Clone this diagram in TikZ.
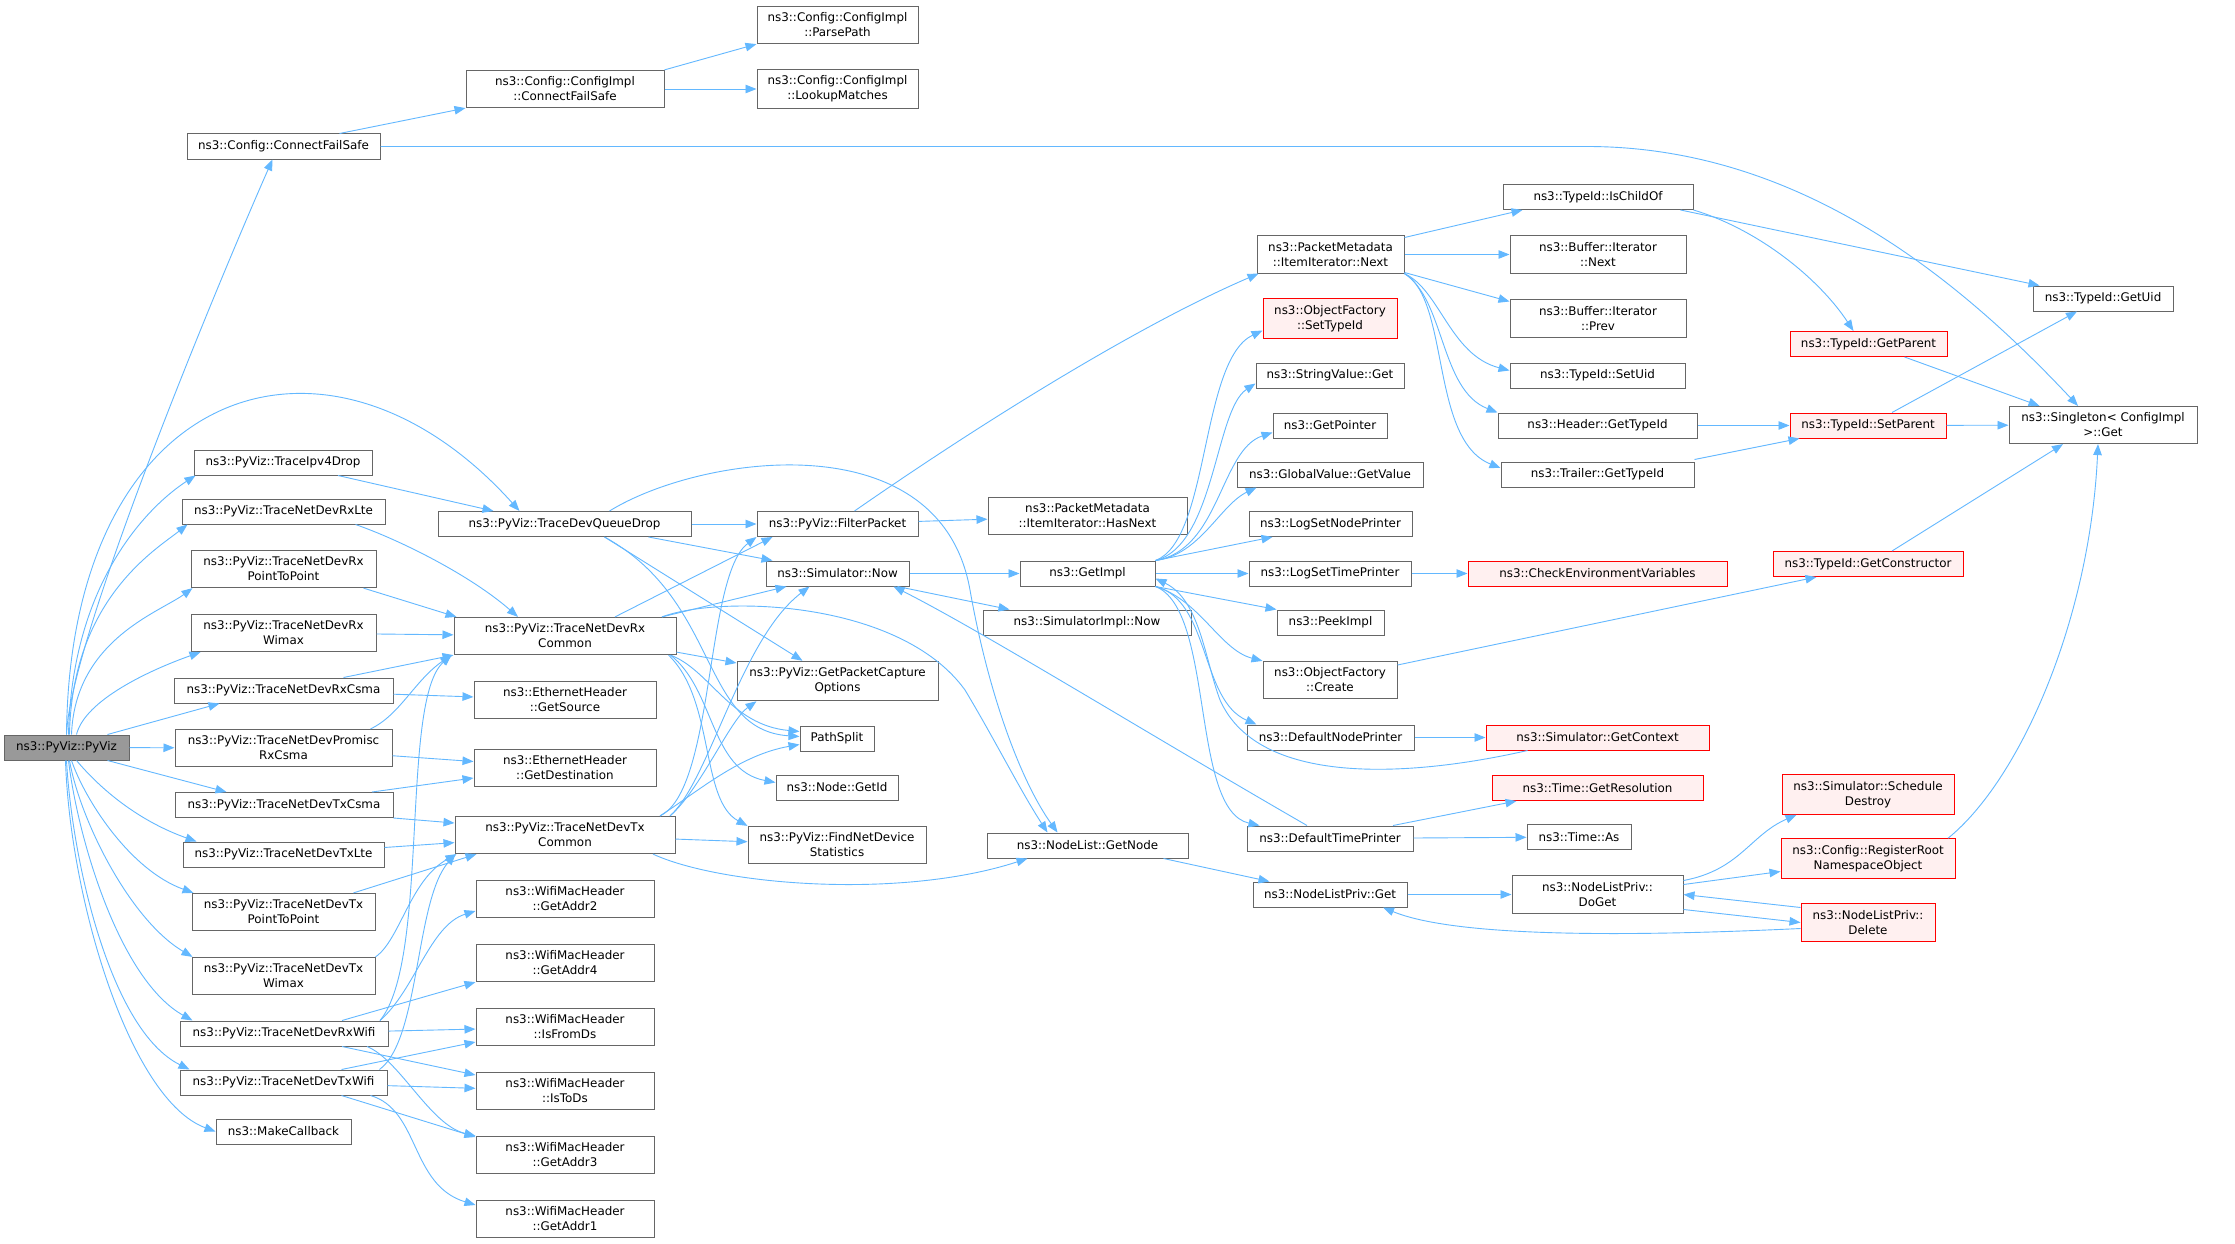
\documentclass[tikz,border=0pt]{standalone}
\usepackage{fontspec}
\setmainfont{DejaVu Sans}
\usepackage{xcolor}
\usepackage{tikz}
\usetikzlibrary{arrows.meta}
\definecolor{edgeblue}{HTML}{63B8FF}
\definecolor{nodegray}{HTML}{666666}
\definecolor{mainfill}{HTML}{999999}
\definecolor{redfill}{HTML}{FFF0F0}
\tikzstyle{func} = [rectangle, draw=nodegray, fill=white, line width=1pt, minimum height=25pt, inner xsep=6pt, inner ysep=6.5pt, align=center]
\tikzstyle{funcred} = [func, draw=red, fill=redfill]
\tikzstyle{funcmain} = [func, fill=mainfill]
\tikzstyle{arrow} = [draw=edgeblue, line width=0.9pt, -{Triangle[length=11pt,width=8.5pt]}]
\tikzstyle{every node}=[font=\fontsize{11.9}{15}\selectfont]

\begin{document}
\begin{tikzpicture}[x=1pt,y=-1pt]
		\path [use as bounding box, fill=white] (0,0) rectangle (2235,1244);
		\node (pyviz) [funcmain, minimum width=125pt] at (66.5,747.5) {ns3::PyViz::PyViz};
		\node (cfs) [func, minimum width=193pt] at (283.5,146.5) {ns3::Config::ConnectFailSafe};
		\node (cimpl) [func, minimum width=198pt] at (565,89) {ns3::Config::ConfigImpl\\::ConnectFailSafe};
		\node (parse) [func, minimum width=161pt] at (837.5,25) {ns3::Config::ConfigImpl\\::ParsePath};
		\node (lookup) [func, minimum width=161pt] at (837.5,89) {ns3::Config::ConfigImpl\\::LookupMatches};
		\node (ipv4drop) [func, minimum width=178pt] at (283,462.5) {ns3::PyViz::TraceIpv4Drop};
		\node (rxlte) [func, minimum width=203pt] at (283.5,511.5) {ns3::PyViz::TraceNetDevRxLte};
		\node (rxp2p) [func, minimum width=185pt] at (283.5,569) {ns3::PyViz::TraceNetDevRx\\PointToPoint};
		\node (rxwimax) [func, minimum width=185pt] at (283.5,633) {ns3::PyViz::TraceNetDevRx\\Wimax};
		\node (rxcsma) [func, minimum width=219pt] at (283.5,690.5) {ns3::PyViz::TraceNetDevRxCsma};
		\node (promisc) [func, minimum width=217pt] at (283.5,748) {ns3::PyViz::TraceNetDevPromisc\\RxCsma};
		\node (txcsma) [func, minimum width=218pt] at (284,805) {ns3::PyViz::TraceNetDevTxCsma};
		\node (txlte) [func, minimum width=201pt] at (283.5,854.5) {ns3::PyViz::TraceNetDevTxLte};
		\node (txp2p) [func, minimum width=183pt] at (283.5,912) {ns3::PyViz::TraceNetDevTx\\PointToPoint};
		\node (txwimax) [func, minimum width=183pt] at (283.5,976) {ns3::PyViz::TraceNetDevTx\\Wimax};
		\node (rxwifi) [func, minimum width=208pt] at (284,1033.5) {ns3::PyViz::TraceNetDevRxWifi};
		\node (txwifi) [func, minimum width=207pt] at (283.5,1082.5) {ns3::PyViz::TraceNetDevTxWifi};
		\node (makecb) [func, minimum width=135pt] at (283.5,1131.5) {ns3::MakeCallback};
		\node (qdrop) [func, minimum width=253pt] at (564.5,524) {ns3::PyViz::TraceDevQueueDrop};
		\node (rxcommon) [func, minimum width=222pt] at (565,636) {ns3::PyViz::TraceNetDevRx\\Common};
		\node (ethsrc) [func, minimum width=182pt] at (565,700) {ns3::EthernetHeader\\::GetSource};
		\node (ethdst) [func, minimum width=182pt] at (565,768) {ns3::EthernetHeader\\::GetDestination};
		\node (txcommon) [func, minimum width=220pt] at (565,835) {ns3::PyViz::TraceNetDevTx\\Common};
		\node (addr2) [func, minimum width=178pt] at (565,899) {ns3::WifiMacHeader\\::GetAddr2};
		\node (addr4) [func, minimum width=178pt] at (565,963) {ns3::WifiMacHeader\\::GetAddr4};
		\node (fromds) [func, minimum width=178pt] at (565,1027) {ns3::WifiMacHeader\\::IsFromDs};
		\node (tods) [func, minimum width=178pt] at (565,1091) {ns3::WifiMacHeader\\::IsToDs};
		\node (addr3) [func, minimum width=178pt] at (565,1155) {ns3::WifiMacHeader\\::GetAddr3};
		\node (addr1) [func, minimum width=178pt] at (565,1219) {ns3::WifiMacHeader\\::GetAddr1};
		\node (filter) [func, minimum width=161pt] at (837.5,524) {ns3::PyViz::FilterPacket};
		\node (simnow) [func, minimum width=143pt] at (837.5,573.5) {ns3::Simulator::Now};
		\node (capture) [func, minimum width=201pt] at (837.5,681) {ns3::PyViz::GetPacketCapture\\Options};
		\node (pathsplit) [func, minimum width=74pt] at (837,738.5) {PathSplit};
		\node (getid) [func, minimum width=122pt] at (837,787.5) {ns3::Node::GetId};
		\node (findstat) [func, minimum width=178pt] at (837,845) {ns3::PyViz::FindNetDevice\\Statistics};
		\node (hasnext) [func, minimum width=199pt] at (1087.5,516) {ns3::PacketMetadata\\::ItemIterator::HasNext};
		\node (getimpl) [func, minimum width=135pt] at (1087.5,573.5) {ns3::GetImpl};
		\node (implnow) [func, minimum width=208pt] at (1087,622.5) {ns3::SimulatorImpl::Now};
		\node (getnode) [func, minimum width=201pt] at (1087.5,845.5) {ns3::NodeList::GetNode};
		\node (itnext) [func, minimum width=147pt] at (1330.5,254.5) {ns3::PacketMetadata\\::ItemIterator::Next};
		\node (settypeid) [funcred, minimum width=134pt] at (1330,318.5) {ns3::ObjectFactory\\::SetTypeId};
		\node (strget) [func, minimum width=148pt] at (1330,375.5) {ns3::StringValue::Get};
		\node (getptr) [func, minimum width=114pt] at (1330,425.5) {ns3::GetPointer};
		\node (getvalue) [func, minimum width=186pt] at (1330,474.5) {ns3::GlobalValue::GetValue};
		\node (lognode) [func, minimum width=163pt] at (1330.5,524) {ns3::LogSetNodePrinter};
		\node (logtime) [func, minimum width=162pt] at (1330,573.5) {ns3::LogSetTimePrinter};
		\node (peek) [func, minimum width=107pt] at (1330.5,622.5) {ns3::PeekImpl};
		\node (create) [func, minimum width=134pt] at (1330,680) {ns3::ObjectFactory\\::Create};
		\node (defnode) [func, minimum width=167pt] at (1330.5,737.5) {ns3::DefaultNodePrinter};
		\node (deftime) [func, minimum width=166pt] at (1330,838.5) {ns3::DefaultTimePrinter};
		\node (privget) [func, minimum width=154pt] at (1330,894.5) {ns3::NodeListPriv::Get};
		\node (ischild) [func, minimum width=190pt] at (1598,197) {ns3::TypeId::IsChildOf};
		\node (bufnext) [func, minimum width=176pt] at (1598,254.5) {ns3::Buffer::Iterator\\::Next};
		\node (bufprev) [func, minimum width=176pt] at (1598,318.5) {ns3::Buffer::Iterator\\::Prev};
		\node (setuid) [func, minimum width=175pt] at (1597.5,375.5) {ns3::TypeId::SetUid};
		\node (hdrtype) [func, minimum width=199pt] at (1597.5,425.5) {ns3::Header::GetTypeId};
		\node (trltype) [func, minimum width=193pt] at (1597.5,474.5) {ns3::Trailer::GetTypeId};
		\node (checkenv) [funcred, minimum width=259pt] at (1597.5,573.5) {ns3::CheckEnvironmentVariables};
		\node (getctx) [funcred, minimum width=223pt] at (1597.5,737.5) {ns3::Simulator::GetContext};
		\node (getres) [funcred, minimum width=211pt] at (1597.5,788) {ns3::Time::GetResolution};
		\node (timeas) [func, minimum width=104pt] at (1579,837) {ns3::Time::As};
		\node (doget) [func, minimum width=171pt] at (1597.5,894.5) {ns3::NodeListPriv::\\DoGet};
		\node (getparent) [funcred, minimum width=157pt] at (1868.5,344) {ns3::TypeId::GetParent};
		\node (setparent) [funcred, minimum width=156pt] at (1868,425.5) {ns3::TypeId::SetParent};
		\node (getctor) [funcred, minimum width=190pt] at (1868,564) {ns3::TypeId::GetConstructor};
		\node (schdestroy) [funcred, minimum width=172pt] at (1868,794.5) {ns3::Simulator::Schedule\\Destroy};
		\node (regroot) [funcred, minimum width=174pt] at (1868,858.5) {ns3::Config::RegisterRoot\\NamespaceObject};
		\node (delete) [funcred, minimum width=134pt] at (1868,922.5) {ns3::NodeListPriv::\\Delete};
		\node (getuid) [func, minimum width=140pt] at (2103,298.5) {ns3::TypeId::GetUid};
		\node (singleton) [func, minimum width=188pt] at (2103,425) {ns3::Singleton< ConfigImpl\\>::Get};
		\draw [arrow](pyviz.north) .. controls (70,640) and (215,290) .. ([xshift=-11pt]cfs.south);
		\draw [arrow](pyviz.north) .. controls (70,380) and (330,300) .. ([xshift=-45pt]qdrop.north);
		\draw [arrow]([xshift=2pt]pyviz.north) .. controls (72,580) and (150,505) .. ([xshift=2pt]ipv4drop.south west);
		\draw [arrow]([xshift=3pt]pyviz.north) .. controls (72,600) and (155,550) .. ([xshift=6pt]rxlte.south west);
		\draw [arrow]([xshift=5pt]pyviz.north) .. controls (75,640) and (160,612) .. ([xshift=2pt]rxp2p.south west);
		\draw [arrow]([xshift=10pt]pyviz.north) .. controls (85,700) and (150,670) .. ([xshift=10pt]rxwimax.south west);
		\draw [arrow]([xshift=41pt]pyviz.north) -- ([xshift=46pt]rxcsma.south west);
		\draw [arrow](pyviz) -- (promisc);
		\draw [arrow]([xshift=41pt]pyviz.south) -- ([xshift=52pt]txcsma.north west);
		\draw [arrow]([xshift=10pt]pyviz.south) .. controls (110,800) and (150,825) .. ([xshift=14pt]txlte.north west);
		\draw [arrow]([xshift=5pt]pyviz.south) .. controls (85,800) and (130,870) .. ([xshift=2pt]txp2p.north west);
		\draw [arrow]([xshift=3pt]pyviz.south) .. controls (80,820) and (130,920) .. ([xshift=1pt]txwimax.north west);
		\draw [arrow]([xshift=2pt]pyviz.south) .. controls (78,840) and (120,980) .. ([xshift=13pt]rxwifi.north west);
		\draw [arrow](pyviz.south) .. controls (72,860) and (110,1030) .. ([xshift=10pt]txwifi.north west);
		\draw [arrow]([xshift=-1pt]pyviz.south) .. controls (70,900) and (130,1100) .. (makecb.west);
		\draw [arrow]([xshift=56pt]cfs.north) -- (cimpl.south west);
		\draw [arrow](cfs.east) -- (1587,146.5) .. controls (1800,146.5) and (1960,280) .. ([xshift=-25pt]singleton.north);
		\draw [arrow](cimpl.north east) -- (parse.south west);
		\draw [arrow](cimpl) -- (lookup);
		\draw [arrow]([xshift=55pt]ipv4drop.south) -- ([xshift=-71pt]qdrop.north);
		\draw [arrow]([xshift=72pt]rxlte.south) .. controls (400,540) and (470,575) .. ([xshift=-47pt]rxcommon.north);
		\draw [arrow]([xshift=80pt]rxp2p.south) -- ([xshift=3pt]rxcommon.north west);
		\draw [arrow](rxwimax) -- (rxcommon);
		\draw [arrow]([xshift=60pt]rxcsma.north) -- (rxcommon.south west);
		\draw [arrow](rxcsma) -- (ethsrc);
		\draw [arrow]([xshift=87pt]promisc.north) .. controls (400,715) and (415,680) .. ([xshift=-2pt]rxcommon.south west);
		\draw [arrow](promisc) -- (ethdst);
		\draw [arrow]([xshift=88pt]txcsma.north) -- ([yshift=-10pt]ethdst.west);
		\draw [arrow](txcsma.south east) -- ([yshift=12pt]txcommon.west);
		\draw [arrow](txlte) -- (txcommon);
		\draw [arrow]([xshift=70pt]txp2p.north) -- ([xshift=22pt]txcommon.south west);
		\draw [arrow](txwimax.north east) .. controls (400,940) and (410,880) .. ([xshift=2pt]txcommon.south west);
		\draw [arrow]([xshift=96pt]rxwifi.north) .. controls (430,960) and (400,700) .. ([xshift=-2pt]rxcommon.south west);
		\draw [arrow]([xshift=96pt]txwifi.north) .. controls (420,1040) and (415,900) .. ([xshift=1pt]txcommon.south west);
		\draw [arrow]([xshift=96pt]rxwifi.north) .. controls (415,990) and (430,925) .. ([yshift=-12pt]addr2.west);
		\draw [arrow]([xshift=58pt]rxwifi.north) -- (addr4.south west);
		\draw [arrow](rxwifi) -- (fromds);
		\draw [arrow]([xshift=58pt]rxwifi.south) -- ([yshift=16pt]tods.west);
		\draw [arrow]([xshift=83pt]rxwifi.south) .. controls (400,1060) and (430,1125) .. (addr3.north west);
		\draw [arrow]([xshift=58pt]txwifi.north) -- ([yshift=-15pt]fromds.west);
		\draw [arrow](txwifi) -- (tods);
		\draw [arrow]([xshift=58pt]txwifi.south) -- ([yshift=18pt]addr3.west);
		\draw [arrow]([xshift=87pt]txwifi.south) .. controls (420,1110) and (410,1185) .. ([yshift=14pt]addr1.west);
		\draw [arrow](qdrop) -- (filter);
		\draw [arrow]([xshift=84pt]qdrop.south) -- ([xshift=7pt]simnow.north west);
		\draw [arrow]([xshift=40pt]qdrop.south) -- ([xshift=66pt]capture.north west);
		\draw [arrow]([xshift=40pt]qdrop.south) .. controls (720,600) and (700,730) .. ([yshift=2pt]pathsplit.west);
		\draw [arrow]([xshift=45pt]qdrop.north) .. controls (700,455) and (940,420) .. (970,590) .. controls (988,692) and (1020,780) .. ([xshift=-30pt]getnode.north);
		\draw [arrow]([xshift=50pt]rxcommon.north) -- ([xshift=16pt]filter.south west);
		\draw [arrow]([xshift=97pt]rxcommon.north) -- ([xshift=21pt]simnow.south west);
		\draw [arrow]([yshift=3pt]rxcommon.south east) -- ([yshift=18pt]capture.west);
		\draw [arrow]([xshift=-6pt]rxcommon.south east) .. controls (710,670) and (730,725) .. ([yshift=7pt]pathsplit.west);
		\draw [arrow]([xshift=-6pt]rxcommon.south east) .. controls (715,690) and (710,770) .. ([yshift=5pt]getid.west);
		\draw [arrow]([xshift=-8pt]rxcommon.south east) .. controls (715,700) and (700,800) .. (findstat.north west);
		\draw [arrow]([xshift=97pt]rxcommon.north) .. controls (720,595) and (900,600) .. (965,690) .. controls (995,740) and (1020,790) .. ([xshift=-40pt]getnode.north);
		\draw [arrow]([xshift=95pt]txcommon.north) .. controls (715,790) and (705,575) .. (filter.south west);
		\draw [arrow]([xshift=105pt]txcommon.north) .. controls (710,780) and (740,640) .. ([xshift=44pt]simnow.south west);
		\draw [arrow]([xshift=105pt]txcommon.north) .. controls (700,790) and (730,720) .. ([xshift=20pt]capture.south west);
		\draw [arrow]([xshift=95pt]txcommon.north) .. controls (700,790) and (740,755) .. ([yshift=-6pt]pathsplit.west);
		\draw [arrow](txcommon) -- (findstat);
		\draw [arrow]([xshift=88pt]txcommon.south) .. controls (720,885) and (900,900) .. ([xshift=-60pt]getnode.south);
		\draw [arrow](filter) -- (hasnext);
		\draw [arrow]([xshift=17pt]filter.north) .. controls (1000,410) and (1150,320) .. ([xshift=2pt]itnext.south west);
		\draw [arrow](simnow) -- (getimpl);
		\draw [arrow]([xshift=60pt]simnow.south) -- ([xshift=27pt]implnow.north west);
		\draw [arrow](getimpl.north east) .. controls (1210,540) and (1200,360) .. ([yshift=-12pt]settypeid.west);
		\draw [arrow](getimpl.north east) .. controls (1215,545) and (1215,410) .. ([yshift=-8pt]strget.west);
		\draw [arrow](getimpl.north east) .. controls (1220,550) and (1220,450) .. ([yshift=-7pt]getptr.west);
		\draw [arrow](getimpl.north east) .. controls (1200,555) and (1220,505) .. ([xshift=20pt]getvalue.south west);
		\draw [arrow](getimpl.north east) -- ([xshift=24pt]lognode.south west);
		\draw [arrow](getimpl) -- (logtime);
		\draw [arrow](getimpl.south east) -- (peek.north west);
		\draw [arrow](getimpl.south east) .. controls (1200,600) and (1220,650) .. (create.north west);
		\draw [arrow](getimpl.south east) .. controls (1210,600) and (1200,700) .. ([xshift=10pt]defnode.north west);
		\draw [arrow](getimpl.south east) .. controls (1215,610) and (1190,810) .. ([xshift=13pt]deftime.north west);
		\draw [arrow]([xshift=-70pt]getctx.south) .. controls (1420,775) and (1260,790) .. (1220,700) .. controls (1205,660) and (1200,600) .. ([yshift=-5pt]getimpl.east);
		\draw [arrow]([xshift=-23pt]deftime.north) .. controls (1150,735) and (980,630) .. ([xshift=-16pt]simnow.south east);
		\draw [arrow](logtime) -- (checkenv);
		\draw [arrow]([yshift=15pt]create.east) -- ([xshift=44pt]getctor.south west);
		\draw [arrow](defnode) -- (getctx);
		\draw [arrow]([xshift=63pt]deftime.north) -- ([xshift=25pt]getres.south west);
		\draw [arrow](deftime) -- (timeas);
		\draw [arrow]([yshift=17pt]itnext.east) -- ([xshift=20pt]ischild.south west);
		\draw [arrow](itnext) -- (bufnext);
		\draw [arrow]([yshift=-18pt]itnext.east) -- ([yshift=17pt]bufprev.west);
		\draw [arrow](itnext.south east) .. controls (1440,290) and (1450,355) .. ([yshift=5pt]setuid.west);
		\draw [arrow](itnext.south east) .. controls (1445,300) and (1440,390) .. (hdrtype.north west);
		\draw [arrow](itnext.south east) .. controls (1450,300) and (1430,440) .. ([yshift=6.5pt]trltype.west);
		\draw [arrow](ischild.south east) .. controls (1760,230) and (1820,280) .. ([xshift=-15pt]getparent.north);
		\draw [arrow]([xshift=-13pt]ischild.south east) -- ([xshift=7pt]getuid.north west);
		\draw [arrow](hdrtype) -- (setparent);
		\draw [arrow]([yshift=15pt]trltype.east) -- ([xshift=10pt]setparent.south west);
		\draw [arrow](setparent) -- (singleton);
		\draw [arrow]([xshift=24pt]setparent.north) -- ([xshift=-26pt]getuid.south);
		\draw [arrow]([xshift=36pt]getparent.south) -- ([xshift=31pt]singleton.north west);
		\draw [arrow]([xshift=24pt]getctor.north) -- ([xshift=-40pt]singleton.south);
		\draw [arrow]([xshift=76pt]getnode.south) -- ([xshift=17pt]privget.north west);
		\draw [arrow](privget) -- (doget);
		\draw [arrow]([yshift=14pt]doget.east) .. controls (1740,870) and (1750,835) .. ([xshift=15pt]schdestroy.south west);
		\draw [arrow]([yshift=10pt]doget.east) -- ([yshift=-13pt]regroot.west);
		\draw [arrow]([yshift=-15pt]doget.east) -- (delete.west);
		\draw [arrow]([yshift=15pt]delete.west) -- (doget.east);
		\draw [arrow]([yshift=-6pt]delete.west) .. controls (1600,938) and (1450,935) .. ([xshift=53pt]privget.south);
		\draw [arrow]([xshift=80pt]regroot.north) .. controls (2020,780) and (2090,620) .. ([xshift=-5pt]singleton.south);
	\end{tikzpicture}
\end{document}
